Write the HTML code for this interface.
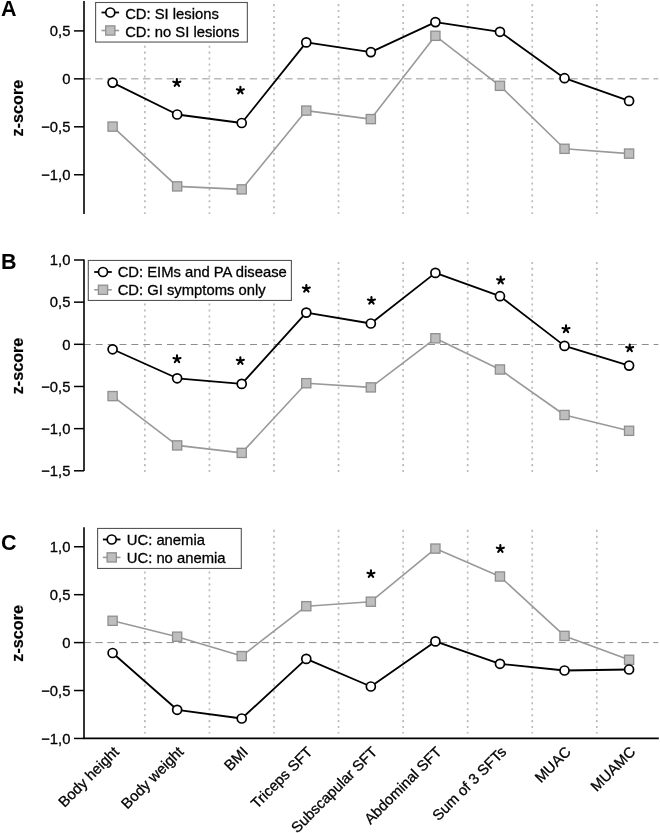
<!DOCTYPE html>
<html><head><meta charset="utf-8"><style>
html,body{margin:0;padding:0;background:#fff;}
svg{display:block;will-change:transform;}
.t{font-family:"Liberation Sans", sans-serif;font-size:14.8px;fill:#000;stroke:#000;stroke-width:0.3px;}
.L{font-family:"Liberation Sans", sans-serif;font-size:21.5px;font-weight:bold;fill:#000;}
.z{font-family:"Liberation Sans", sans-serif;font-size:16.2px;font-weight:bold;fill:#000;stroke:#000;stroke-width:0.2px;}
</style></head><body>
<svg width="660" height="833" viewBox="0 0 660 833">
<line x1="144.88" y1="4.05" x2="144.88" y2="214" stroke="#bcbcbc" stroke-width="1.7" stroke-dasharray="2.1 3.846"/>
<line x1="209.44" y1="4.05" x2="209.44" y2="214" stroke="#bcbcbc" stroke-width="1.7" stroke-dasharray="2.1 3.846"/>
<line x1="274" y1="4.05" x2="274" y2="214" stroke="#bcbcbc" stroke-width="1.7" stroke-dasharray="2.1 3.846"/>
<line x1="338.56" y1="4.05" x2="338.56" y2="214" stroke="#bcbcbc" stroke-width="1.7" stroke-dasharray="2.1 3.846"/>
<line x1="403.12" y1="4.05" x2="403.12" y2="214" stroke="#bcbcbc" stroke-width="1.7" stroke-dasharray="2.1 3.846"/>
<line x1="467.68" y1="4.05" x2="467.68" y2="214" stroke="#bcbcbc" stroke-width="1.7" stroke-dasharray="2.1 3.846"/>
<line x1="532.24" y1="4.05" x2="532.24" y2="214" stroke="#bcbcbc" stroke-width="1.7" stroke-dasharray="2.1 3.846"/>
<line x1="596.8" y1="4.05" x2="596.8" y2="214" stroke="#bcbcbc" stroke-width="1.7" stroke-dasharray="2.1 3.846"/>
<line x1="83.53" y1="78.85" x2="658.3" y2="78.85" stroke="#b9b9b9" stroke-width="1.5" stroke-dasharray="7.4 4.47"/>
<rect x="95.6" y="2.5" width="151.75" height="39.55" fill="#fff" stroke="#555" stroke-width="1.1"/>
<line x1="101.5" y1="12.5" x2="119.1" y2="12.5" stroke="#000" stroke-width="1.8"/>
<circle cx="110.3" cy="12.5" r="4.5" fill="#fff" stroke="#000" stroke-width="1.7"/>
<line x1="101.5" y1="30.5" x2="119.1" y2="30.5" stroke="#999" stroke-width="1.6"/>
<rect x="105.7" y="25.9" width="9.2" height="9.2" fill="#bebebe" stroke="#8f8f8f" stroke-width="1.3"/>
<text x="125.15" y="19.1" class="t">CD: SI lesions</text>
<text x="125.15" y="36.7" class="t">CD: no SI lesions</text>
<polyline points="112.6,126.6 177.16,186.4 241.72,189.4 306.28,110.6 370.84,119.1 435.4,35.8 499.96,85.8 564.52,148.8 629.08,153.6" fill="none" stroke="#999" stroke-width="1.6" stroke-linejoin="round"/>
<rect x="108" y="122" width="9.2" height="9.2" fill="#bebebe" stroke="#8f8f8f" stroke-width="1.3"/>
<rect x="172.56" y="181.8" width="9.2" height="9.2" fill="#bebebe" stroke="#8f8f8f" stroke-width="1.3"/>
<rect x="237.12" y="184.8" width="9.2" height="9.2" fill="#bebebe" stroke="#8f8f8f" stroke-width="1.3"/>
<rect x="301.68" y="106" width="9.2" height="9.2" fill="#bebebe" stroke="#8f8f8f" stroke-width="1.3"/>
<rect x="366.24" y="114.5" width="9.2" height="9.2" fill="#bebebe" stroke="#8f8f8f" stroke-width="1.3"/>
<rect x="430.8" y="31.2" width="9.2" height="9.2" fill="#bebebe" stroke="#8f8f8f" stroke-width="1.3"/>
<rect x="495.36" y="81.2" width="9.2" height="9.2" fill="#bebebe" stroke="#8f8f8f" stroke-width="1.3"/>
<rect x="559.92" y="144.2" width="9.2" height="9.2" fill="#bebebe" stroke="#8f8f8f" stroke-width="1.3"/>
<rect x="624.48" y="149" width="9.2" height="9.2" fill="#bebebe" stroke="#8f8f8f" stroke-width="1.3"/>
<polyline points="112.6,82.6 177.16,114.5 241.72,123 306.28,42.4 370.84,52.1 435.4,22.1 499.96,31.8 564.52,78.2 629.08,100.9" fill="none" stroke="#000" stroke-width="1.8" stroke-linejoin="round"/>
<circle cx="112.6" cy="82.6" r="4.5" fill="#fff" stroke="#000" stroke-width="1.7"/>
<circle cx="177.16" cy="114.5" r="4.5" fill="#fff" stroke="#000" stroke-width="1.7"/>
<circle cx="241.72" cy="123" r="4.5" fill="#fff" stroke="#000" stroke-width="1.7"/>
<circle cx="306.28" cy="42.4" r="4.5" fill="#fff" stroke="#000" stroke-width="1.7"/>
<circle cx="370.84" cy="52.1" r="4.5" fill="#fff" stroke="#000" stroke-width="1.7"/>
<circle cx="435.4" cy="22.1" r="4.5" fill="#fff" stroke="#000" stroke-width="1.7"/>
<circle cx="499.96" cy="31.8" r="4.5" fill="#fff" stroke="#000" stroke-width="1.7"/>
<circle cx="564.52" cy="78.2" r="4.5" fill="#fff" stroke="#000" stroke-width="1.7"/>
<circle cx="629.08" cy="100.9" r="4.5" fill="#fff" stroke="#000" stroke-width="1.7"/>
<path d="M176.85 82.8L176.85 79.1M176.85 82.8L180.37 81.66M176.85 82.8L179.02 85.79M176.85 82.8L174.68 85.79M176.85 82.8L173.33 81.66" stroke="#000" stroke-width="2.1" stroke-linecap="round" fill="none"/>
<path d="M240.4 90.4L240.4 86.7M240.4 90.4L243.92 89.26M240.4 90.4L242.57 93.39M240.4 90.4L238.23 93.39M240.4 90.4L236.88 89.26" stroke="#000" stroke-width="2.1" stroke-linecap="round" fill="none"/>
<line x1="84" y1="1" x2="84" y2="213.9" stroke="#000" stroke-width="1.6"/>
<line x1="74" y1="30.9" x2="84" y2="30.9" stroke="#000" stroke-width="1.5"/>
<text x="70.4" y="36.2" class="t" text-anchor="end">0,5</text>
<line x1="74" y1="78.85" x2="84" y2="78.85" stroke="#000" stroke-width="1.5"/>
<text x="70.4" y="84.15" class="t" text-anchor="end">0</text>
<line x1="74" y1="126.8" x2="84" y2="126.8" stroke="#000" stroke-width="1.5"/>
<text x="70.4" y="132.1" class="t" text-anchor="end">−0,5</text>
<line x1="74" y1="174.75" x2="84" y2="174.75" stroke="#000" stroke-width="1.5"/>
<text x="70.4" y="180.05" class="t" text-anchor="end">−1,0</text>
<text x="1" y="16.1" class="L">A</text>
<text x="0" y="0" class="z" text-anchor="middle" transform="translate(23.4 108.1) rotate(-90)">z-score</text>
<line x1="144.88" y1="261.9" x2="144.88" y2="472" stroke="#bcbcbc" stroke-width="1.7" stroke-dasharray="2.1 3.846"/>
<line x1="209.44" y1="261.9" x2="209.44" y2="472" stroke="#bcbcbc" stroke-width="1.7" stroke-dasharray="2.1 3.846"/>
<line x1="274" y1="261.9" x2="274" y2="472" stroke="#bcbcbc" stroke-width="1.7" stroke-dasharray="2.1 3.846"/>
<line x1="338.56" y1="261.9" x2="338.56" y2="472" stroke="#bcbcbc" stroke-width="1.7" stroke-dasharray="2.1 3.846"/>
<line x1="403.12" y1="261.9" x2="403.12" y2="472" stroke="#bcbcbc" stroke-width="1.7" stroke-dasharray="2.1 3.846"/>
<line x1="467.68" y1="261.9" x2="467.68" y2="472" stroke="#bcbcbc" stroke-width="1.7" stroke-dasharray="2.1 3.846"/>
<line x1="532.24" y1="261.9" x2="532.24" y2="472" stroke="#bcbcbc" stroke-width="1.7" stroke-dasharray="2.1 3.846"/>
<line x1="596.8" y1="261.9" x2="596.8" y2="472" stroke="#bcbcbc" stroke-width="1.7" stroke-dasharray="2.1 3.846"/>
<line x1="83.9" y1="344.5" x2="658.3" y2="344.5" stroke="#8c8c8c" stroke-width="1.0" stroke-dasharray="6.9 4.97"/>
<rect x="88.3" y="260.45" width="203.1" height="40" fill="#fff" stroke="#555" stroke-width="1.1"/>
<line x1="94.2" y1="272" x2="111.8" y2="272" stroke="#000" stroke-width="1.8"/>
<circle cx="103" cy="272" r="4.5" fill="#fff" stroke="#000" stroke-width="1.7"/>
<line x1="94.2" y1="289.8" x2="111.8" y2="289.8" stroke="#999" stroke-width="1.6"/>
<rect x="98.4" y="285.2" width="9.2" height="9.2" fill="#bebebe" stroke="#8f8f8f" stroke-width="1.3"/>
<text x="117.65" y="277.4" class="t">CD: EIMs and PA disease</text>
<text x="117.65" y="295.1" class="t">CD: GI symptoms only</text>
<polyline points="112.6,396.1 177.16,445.4 241.72,452.9 306.28,383.2 370.84,387.4 435.4,338.3 499.96,369.5 564.52,415 629.08,430.8" fill="none" stroke="#999" stroke-width="1.6" stroke-linejoin="round"/>
<rect x="108" y="391.5" width="9.2" height="9.2" fill="#bebebe" stroke="#8f8f8f" stroke-width="1.3"/>
<rect x="172.56" y="440.8" width="9.2" height="9.2" fill="#bebebe" stroke="#8f8f8f" stroke-width="1.3"/>
<rect x="237.12" y="448.3" width="9.2" height="9.2" fill="#bebebe" stroke="#8f8f8f" stroke-width="1.3"/>
<rect x="301.68" y="378.6" width="9.2" height="9.2" fill="#bebebe" stroke="#8f8f8f" stroke-width="1.3"/>
<rect x="366.24" y="382.8" width="9.2" height="9.2" fill="#bebebe" stroke="#8f8f8f" stroke-width="1.3"/>
<rect x="430.8" y="333.7" width="9.2" height="9.2" fill="#bebebe" stroke="#8f8f8f" stroke-width="1.3"/>
<rect x="495.36" y="364.9" width="9.2" height="9.2" fill="#bebebe" stroke="#8f8f8f" stroke-width="1.3"/>
<rect x="559.92" y="410.4" width="9.2" height="9.2" fill="#bebebe" stroke="#8f8f8f" stroke-width="1.3"/>
<rect x="624.48" y="426.2" width="9.2" height="9.2" fill="#bebebe" stroke="#8f8f8f" stroke-width="1.3"/>
<polyline points="112.6,349.3 177.16,378.3 241.72,383.9 306.28,312.6 370.84,323.5 435.4,272.9 499.96,296.2 564.52,345.9 629.08,365.6" fill="none" stroke="#000" stroke-width="1.8" stroke-linejoin="round"/>
<circle cx="112.6" cy="349.3" r="4.5" fill="#fff" stroke="#000" stroke-width="1.7"/>
<circle cx="177.16" cy="378.3" r="4.5" fill="#fff" stroke="#000" stroke-width="1.7"/>
<circle cx="241.72" cy="383.9" r="4.5" fill="#fff" stroke="#000" stroke-width="1.7"/>
<circle cx="306.28" cy="312.6" r="4.5" fill="#fff" stroke="#000" stroke-width="1.7"/>
<circle cx="370.84" cy="323.5" r="4.5" fill="#fff" stroke="#000" stroke-width="1.7"/>
<circle cx="435.4" cy="272.9" r="4.5" fill="#fff" stroke="#000" stroke-width="1.7"/>
<circle cx="499.96" cy="296.2" r="4.5" fill="#fff" stroke="#000" stroke-width="1.7"/>
<circle cx="564.52" cy="345.9" r="4.5" fill="#fff" stroke="#000" stroke-width="1.7"/>
<circle cx="629.08" cy="365.6" r="4.5" fill="#fff" stroke="#000" stroke-width="1.7"/>
<path d="M177 359.1L177 355.4M177 359.1L180.52 357.96M177 359.1L179.17 362.09M177 359.1L174.83 362.09M177 359.1L173.48 357.96" stroke="#000" stroke-width="2.1" stroke-linecap="round" fill="none"/>
<path d="M240.35 361L240.35 357.3M240.35 361L243.87 359.86M240.35 361L242.52 363.99M240.35 361L238.18 363.99M240.35 361L236.83 359.86" stroke="#000" stroke-width="2.1" stroke-linecap="round" fill="none"/>
<path d="M306.35 288.7L306.35 285M306.35 288.7L309.87 287.56M306.35 288.7L308.52 291.69M306.35 288.7L304.18 291.69M306.35 288.7L302.83 287.56" stroke="#000" stroke-width="2.1" stroke-linecap="round" fill="none"/>
<path d="M371.45 300.7L371.45 297M371.45 300.7L374.97 299.56M371.45 300.7L373.62 303.69M371.45 300.7L369.28 303.69M371.45 300.7L367.93 299.56" stroke="#000" stroke-width="2.1" stroke-linecap="round" fill="none"/>
<path d="M500.65 280.3L500.65 276.6M500.65 280.3L504.17 279.16M500.65 280.3L502.82 283.29M500.65 280.3L498.48 283.29M500.65 280.3L497.13 279.16" stroke="#000" stroke-width="2.1" stroke-linecap="round" fill="none"/>
<path d="M566 329.1L566 325.4M566 329.1L569.52 327.96M566 329.1L568.17 332.09M566 329.1L563.83 332.09M566 329.1L562.48 327.96" stroke="#000" stroke-width="2.1" stroke-linecap="round" fill="none"/>
<path d="M629.7 348.2L629.7 344.5M629.7 348.2L633.22 347.06M629.7 348.2L631.87 351.19M629.7 348.2L627.53 351.19M629.7 348.2L626.18 347.06" stroke="#000" stroke-width="2.1" stroke-linecap="round" fill="none"/>
<line x1="84" y1="259.5" x2="84" y2="470.9" stroke="#000" stroke-width="1.6"/>
<line x1="74" y1="260" x2="84" y2="260" stroke="#000" stroke-width="1.5"/>
<text x="70.4" y="265.3" class="t" text-anchor="end">1,0</text>
<line x1="74" y1="302.16" x2="84" y2="302.16" stroke="#000" stroke-width="1.5"/>
<text x="70.4" y="307.46" class="t" text-anchor="end">0,5</text>
<line x1="74" y1="344.32" x2="84" y2="344.32" stroke="#000" stroke-width="1.5"/>
<text x="70.4" y="349.62" class="t" text-anchor="end">0</text>
<line x1="74" y1="386.48" x2="84" y2="386.48" stroke="#000" stroke-width="1.5"/>
<text x="70.4" y="391.78" class="t" text-anchor="end">−0,5</text>
<line x1="74" y1="428.64" x2="84" y2="428.64" stroke="#000" stroke-width="1.5"/>
<text x="70.4" y="433.94" class="t" text-anchor="end">−1,0</text>
<line x1="74" y1="470.8" x2="84" y2="470.8" stroke="#000" stroke-width="1.5"/>
<text x="70.4" y="476.1" class="t" text-anchor="end">−1,5</text>
<text x="1" y="269.3" class="L">B</text>
<text x="0" y="0" class="z" text-anchor="middle" transform="translate(23.4 366) rotate(-90)">z-score</text>
<line x1="144.88" y1="529.8" x2="144.88" y2="733.5" stroke="#bcbcbc" stroke-width="1.7" stroke-dasharray="2.1 3.846"/>
<line x1="209.44" y1="529.8" x2="209.44" y2="733.5" stroke="#bcbcbc" stroke-width="1.7" stroke-dasharray="2.1 3.846"/>
<line x1="274" y1="529.8" x2="274" y2="733.5" stroke="#bcbcbc" stroke-width="1.7" stroke-dasharray="2.1 3.846"/>
<line x1="338.56" y1="529.8" x2="338.56" y2="733.5" stroke="#bcbcbc" stroke-width="1.7" stroke-dasharray="2.1 3.846"/>
<line x1="403.12" y1="529.8" x2="403.12" y2="733.5" stroke="#bcbcbc" stroke-width="1.7" stroke-dasharray="2.1 3.846"/>
<line x1="467.68" y1="529.8" x2="467.68" y2="733.5" stroke="#bcbcbc" stroke-width="1.7" stroke-dasharray="2.1 3.846"/>
<line x1="532.24" y1="529.8" x2="532.24" y2="733.5" stroke="#bcbcbc" stroke-width="1.7" stroke-dasharray="2.1 3.846"/>
<line x1="596.8" y1="529.8" x2="596.8" y2="733.5" stroke="#bcbcbc" stroke-width="1.7" stroke-dasharray="2.1 3.846"/>
<line x1="83.53" y1="642.6" x2="658.3" y2="642.6" stroke="#8c8c8c" stroke-width="1.0" stroke-dasharray="7.4 4.47"/>
<rect x="97.6" y="528.45" width="143.7" height="40" fill="#fff" stroke="#555" stroke-width="1.1"/>
<line x1="102.9" y1="539.5" x2="120.5" y2="539.5" stroke="#000" stroke-width="1.8"/>
<circle cx="111.7" cy="539.5" r="4.5" fill="#fff" stroke="#000" stroke-width="1.7"/>
<line x1="102.9" y1="557.4" x2="120.5" y2="557.4" stroke="#999" stroke-width="1.6"/>
<rect x="107.1" y="552.8" width="9.2" height="9.2" fill="#bebebe" stroke="#8f8f8f" stroke-width="1.3"/>
<text x="126.8" y="545.1" class="t">UC: anemia</text>
<text x="126.8" y="562.8" class="t">UC: no anemia</text>
<polyline points="112.6,620.8 177.16,636.7 241.72,656.1 306.28,606.2 370.84,601.7 435.4,548.6 499.96,576.5 564.52,635.9 629.08,659.8" fill="none" stroke="#999" stroke-width="1.6" stroke-linejoin="round"/>
<rect x="108" y="616.2" width="9.2" height="9.2" fill="#bebebe" stroke="#8f8f8f" stroke-width="1.3"/>
<rect x="172.56" y="632.1" width="9.2" height="9.2" fill="#bebebe" stroke="#8f8f8f" stroke-width="1.3"/>
<rect x="237.12" y="651.5" width="9.2" height="9.2" fill="#bebebe" stroke="#8f8f8f" stroke-width="1.3"/>
<rect x="301.68" y="601.6" width="9.2" height="9.2" fill="#bebebe" stroke="#8f8f8f" stroke-width="1.3"/>
<rect x="366.24" y="597.1" width="9.2" height="9.2" fill="#bebebe" stroke="#8f8f8f" stroke-width="1.3"/>
<rect x="430.8" y="544" width="9.2" height="9.2" fill="#bebebe" stroke="#8f8f8f" stroke-width="1.3"/>
<rect x="495.36" y="571.9" width="9.2" height="9.2" fill="#bebebe" stroke="#8f8f8f" stroke-width="1.3"/>
<rect x="559.92" y="631.3" width="9.2" height="9.2" fill="#bebebe" stroke="#8f8f8f" stroke-width="1.3"/>
<rect x="624.48" y="655.2" width="9.2" height="9.2" fill="#bebebe" stroke="#8f8f8f" stroke-width="1.3"/>
<polyline points="112.6,653 177.16,709.8 241.72,718.5 306.28,658.9 370.84,686.5 435.4,641.4 499.96,663.8 564.52,670.5 629.08,669.5" fill="none" stroke="#000" stroke-width="1.8" stroke-linejoin="round"/>
<circle cx="112.6" cy="653" r="4.5" fill="#fff" stroke="#000" stroke-width="1.7"/>
<circle cx="177.16" cy="709.8" r="4.5" fill="#fff" stroke="#000" stroke-width="1.7"/>
<circle cx="241.72" cy="718.5" r="4.5" fill="#fff" stroke="#000" stroke-width="1.7"/>
<circle cx="306.28" cy="658.9" r="4.5" fill="#fff" stroke="#000" stroke-width="1.7"/>
<circle cx="370.84" cy="686.5" r="4.5" fill="#fff" stroke="#000" stroke-width="1.7"/>
<circle cx="435.4" cy="641.4" r="4.5" fill="#fff" stroke="#000" stroke-width="1.7"/>
<circle cx="499.96" cy="663.8" r="4.5" fill="#fff" stroke="#000" stroke-width="1.7"/>
<circle cx="564.52" cy="670.5" r="4.5" fill="#fff" stroke="#000" stroke-width="1.7"/>
<circle cx="629.08" cy="669.5" r="4.5" fill="#fff" stroke="#000" stroke-width="1.7"/>
<path d="M370.95 574L370.95 570.3M370.95 574L374.47 572.86M370.95 574L373.12 576.99M370.95 574L368.78 576.99M370.95 574L367.43 572.86" stroke="#000" stroke-width="2.1" stroke-linecap="round" fill="none"/>
<path d="M500.35 548.8L500.35 545.1M500.35 548.8L503.87 547.66M500.35 548.8L502.52 551.79M500.35 548.8L498.18 551.79M500.35 548.8L496.83 547.66" stroke="#000" stroke-width="2.1" stroke-linecap="round" fill="none"/>
<line x1="84" y1="527.2" x2="84" y2="738.4" stroke="#000" stroke-width="1.6"/>
<line x1="74" y1="546.75" x2="84" y2="546.75" stroke="#000" stroke-width="1.5"/>
<text x="70.4" y="552.05" class="t" text-anchor="end">1,0</text>
<line x1="74" y1="594.68" x2="84" y2="594.68" stroke="#000" stroke-width="1.5"/>
<text x="70.4" y="599.98" class="t" text-anchor="end">0,5</text>
<line x1="74" y1="642.6" x2="84" y2="642.6" stroke="#000" stroke-width="1.5"/>
<text x="70.4" y="647.9" class="t" text-anchor="end">0</text>
<line x1="74" y1="690.52" x2="84" y2="690.52" stroke="#000" stroke-width="1.5"/>
<text x="70.4" y="695.82" class="t" text-anchor="end">−0,5</text>
<line x1="74" y1="738.45" x2="84" y2="738.45" stroke="#000" stroke-width="1.5"/>
<text x="70.4" y="743.75" class="t" text-anchor="end">−1,0</text>
<line x1="83.2" y1="738.4" x2="658.8" y2="738.4" stroke="#000" stroke-width="1.7"/>
<text x="1" y="549.8" class="L">C</text>
<text x="0" y="0" class="z" text-anchor="middle" transform="translate(23.4 633.3) rotate(-90)">z-score</text>
<text x="0" y="0" class="t" text-anchor="end" transform="translate(119.8 752.8) rotate(-45)">Body height</text>
<text x="0" y="0" class="t" text-anchor="end" transform="translate(184.36 752.8) rotate(-45)">Body weight</text>
<text x="0" y="0" class="t" text-anchor="end" transform="translate(248.92 752.8) rotate(-45)">BMI</text>
<text x="0" y="0" class="t" text-anchor="end" transform="translate(313.48 752.8) rotate(-45)">Triceps SFT</text>
<text x="0" y="0" class="t" text-anchor="end" transform="translate(378.04 752.8) rotate(-45)">Subscapular SFT</text>
<text x="0" y="0" class="t" text-anchor="end" transform="translate(442.6 752.8) rotate(-45)">Abdominal SFT</text>
<text x="0" y="0" class="t" text-anchor="end" transform="translate(507.16 752.8) rotate(-45)">Sum of 3 SFTs</text>
<text x="0" y="0" class="t" text-anchor="end" transform="translate(571.72 752.8) rotate(-45)">MUAC</text>
<text x="0" y="0" class="t" text-anchor="end" transform="translate(636.28 752.8) rotate(-45)">MUAMC</text>
</svg>
</body></html>
